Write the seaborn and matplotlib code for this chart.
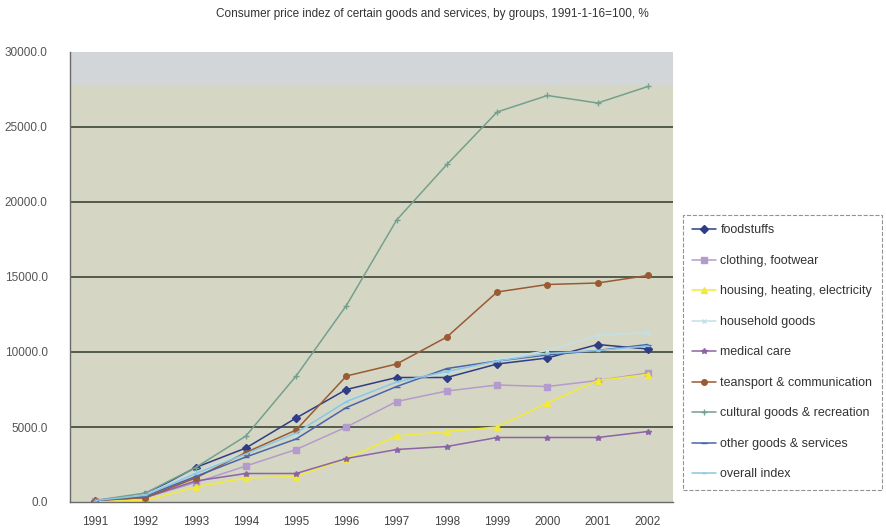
import matplotlib
matplotlib.use("Agg")
import matplotlib.pyplot as plt
import seaborn as sns
import pandas as pd
import numpy as np

years = ["1991", "1992", "1993", "1994", "1995", "1996", "1997", "1998", "1999", "2000", "2001", "2002"]

foodstuffs = [100, 500, 2300, 3600, 5600, 7500, 8300, 8300, 9200, 9600, 10500, 10200]
clothing = [100, 300, 1300, 2400, 3500, 5000, 6700, 7400, 7800, 7700, 8100, 8600]
housing = [50, 100, 1000, 1600, 1700, 2900, 4400, 4700, 5000, 6600, 8100, 8500]
household = [100, 500, 2000, 3300, 4500, 6800, 8000, 8600, 9500, 10100, 11100, 11300]
medical = [100, 300, 1400, 1900, 1900, 2900, 3500, 3700, 4300, 4300, 4300, 4700]
transport = [100, 300, 1600, 3300, 4800, 8400, 9200, 11000, 14000, 14500, 14600, 15100]
cultural = [100, 600, 2300, 4400, 8400, 13100, 18800, 22500, 26000, 27100, 26600, 27700]
other = [100, 400, 1700, 3000, 4200, 6300, 7700, 8900, 9400, 9800, 10100, 10500]
overall = [100, 450, 1900, 3200, 4600, 6700, 8000, 8700, 9400, 9900, 10100, 10400]

series_names = ["foodstuffs", "clothing, footwear", "housing, heating, electricity",
                "household goods", "medical care", "teansport & communication",
                "cultural goods & recreation", "other goods & services", "overall index"]
series_values = [foodstuffs, clothing, housing, household, medical, transport,
                 cultural, other, overall]

colors = ["#2f3c86", "#b49bcd", "#f2ea3a", "#c2e0e6", "#8b63a6", "#9a5a32",
          "#74a08e", "#4a64aa", "#8cc6e2"]
markers = ["D", "s", "^", "x", "*", "o", "+", "_", "_"]
msizes = [4, 4, 5, 3, 4, 4, 4, 4, 3]

rows = []
for name, vals in zip(series_names, series_values):
    for i, v in enumerate(vals):
        rows.append({"pos": i, "value": v, "series": name})
df = pd.DataFrame(rows)

sns.set_theme(style="white")
plt.rcParams["font.family"] = ["Liberation Sans", "DejaVu Sans"]

fig = plt.figure(figsize=(8.86, 5.29), dpi=100)
ax = fig.add_axes([70 / 886, 27 / 529, 603 / 886, 450 / 529])
ax.set_facecolor("#d5d7c4")
ax.axhspan(27700, 30000, color="#d3d6d9", zorder=0, lw=0)

for name, c, m, ms in zip(series_names, colors, markers, msizes):
    sub = df[df["series"] == name]
    sns.lineplot(data=sub, x="pos", y="value", ax=ax, color=c, marker=m,
                 markersize=ms, markeredgecolor=c, markeredgewidth=1,
                 linewidth=1.1, label=name, legend=False)

ax.set_xlim(-0.5, 11.5)
ax.set_ylim(0, 30000)
yt = np.arange(0, 30001, 5000)
ax.set_yticks(yt)
ax.set_yticklabels([f"{v:.1f}" for v in yt], fontsize=8.5, color="#555555")
for v in yt[1:-1]:
    ax.axhline(v, color="#2f3a2c", lw=1.1, zorder=1)
ax.set_xticks(range(len(years)))
ax.set_xticklabels(years, fontsize=8.5, color="#444444")
ax.set_xticks(np.arange(-0.5, 11.6, 1), minor=True)
ax.tick_params(axis="x", which="major", length=0, pad=10)
ax.tick_params(axis="x", which="minor", length=4, color="#666666", direction="in")
ax.tick_params(axis="y", length=0, pad=16)
ax.set_xlabel("")
ax.set_ylabel("")
for s in ["top", "right"]:
    ax.spines[s].set_visible(False)
for s in ["left", "bottom"]:
    ax.spines[s].set_color("#6a6a6a")
    ax.spines[s].set_linewidth(1.0)

fig.text(432 / 886, 1 - 14 / 529, "Consumer price indez of certain goods and services, by groups, 1991-1-16=100, %",
         ha="center", va="center", fontsize=8.5, color="#333333")

handles, labels = ax.get_legend_handles_labels()
leg = fig.legend(handles, labels, loc="upper left", bbox_to_anchor=(683 / 886, 1 - 215 / 529),
                 fontsize=9, frameon=True, fancybox=False, labelspacing=1.48,
                 handlelength=1.9, handletextpad=0.35, borderpad=0.75, borderaxespad=0)
leg.get_frame().set_edgecolor("#777777")
leg.get_frame().set_linestyle("--")
leg.get_frame().set_linewidth(0.8)
for t in leg.get_texts():
    t.set_color("#333333")

fig.savefig("out.png", dpi=100)
